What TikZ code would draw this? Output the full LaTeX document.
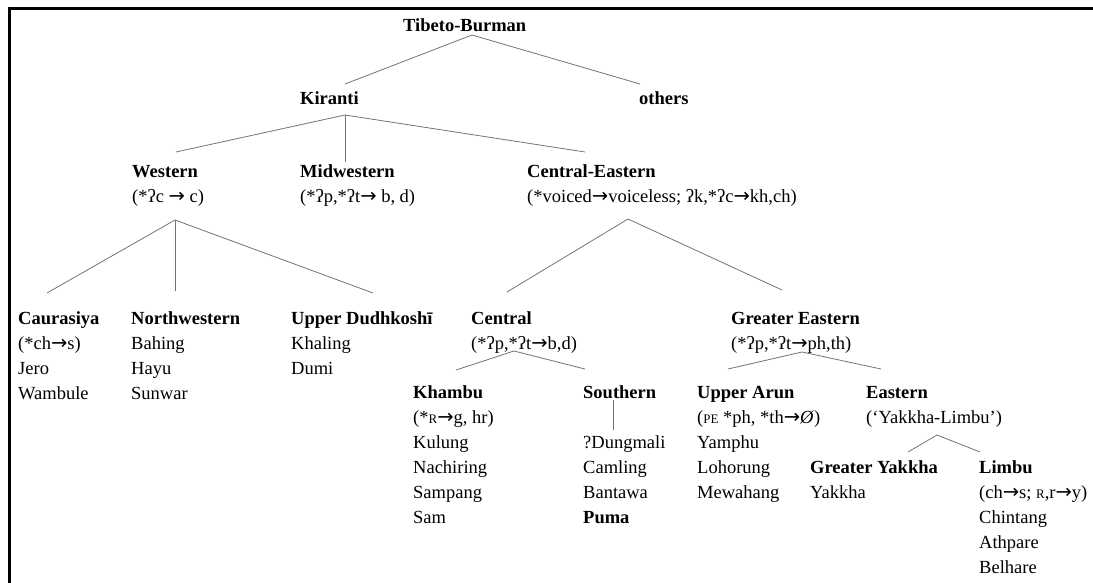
\documentclass[tikz,border=0pt]{standalone}
\usepackage{fontspec}
\setmainfont{Liberation Serif}
\newfontfamily\arfont{DejaVu Sans}
\newcommand\lst[1]{\begin{tabular}[t]{@{}l@{}}#1\end{tabular}}
\newcommand\scr[1]{{\fontsize{13}{13}\selectfont #1}}
\newcommand\ar{{\arfont\fontsize{19.5}{19.5}\selectfont →}}
\begin{document}
\begin{tikzpicture}[x=1pt,y=-1pt,
  lab/.style={anchor=base west,inner sep=0pt,font=\fontsize{18.5}{25}\selectfont},
  br/.style={draw=black!55,line width=0.8pt}]
\useasboundingbox (0,0) rectangle (1093,583);
\draw[line width=3pt] (9,590) -- (9,9) -- (1100,9);
% nodes
\node[lab] (tb)  at (403,32)  {\textbf{Tibeto-Burman}};
\node[lab] (kir) at (300,105) {\textbf{Kiranti}};
\node[lab] (oth) at (639,105) {\textbf{others}};
\node[lab] (wes) at (132,178) {\lst{\textbf{Western}\\(*ʔc \ar{} c)}};
\node[lab] (mid) at (300,178) {\lst{\textbf{Midwestern}\\(*ʔp,*ʔt\ar{} b, d)}};
\node[lab] (ce)  at (527,178) {\lst{\textbf{Central-Eastern}\\(*voiced\ar{}voiceless; ʔk,*ʔc\ar{}kh,ch)}};
\node[lab] (cau) at (18,324)  {\lst{\textbf{Caurasiya}\\(*ch\ar{}s)\\Jero\\Wambule}};
\node[lab] (nw)  at (131,324) {\lst{\textbf{Northwestern}\\Bahing\\Hayu\\Sunwar}};
\node[lab] (ud)  at (291,324) {\lst{\textbf{Upper Dudhkoshī}\\Khaling\\Dumi}};
\node[lab] (cen) at (471,324) {\lst{\textbf{Central}\\(*ʔp,*ʔt\ar{}b,d)}};
\node[lab] (ge)  at (731,324) {\lst{\textbf{Greater Eastern}\\(*ʔp,*ʔt\ar{}ph,th)}};
\node[lab] (kha) at (413,398) {\lst{\textbf{Khambu}\\(*\scr{R}\ar{}g, hr)\\Kulung\\Nachiring\\Sampang\\Sam}};
\node[lab] (sou) at (583,398) {\textbf{Southern}};
\node[lab] (soul) at (583,448) {\lst{?Dungmali\\Camling\\Bantawa\\\textbf{Puma}}};
\node[lab] (ua)  at (697,398) {\lst{\textbf{Upper Arun}\\(\scr{PE} *ph, *th\ar{}\textit{Ø})\\Yamphu\\Lohorung\\Mewahang}};
\node[lab] (eas) at (866,398) {\lst{\textbf{Eastern}\\(‘Yakkha-Limbu’)}};
\node[lab] (gy)  at (810,473) {\lst{\textbf{Greater Yakkha}\\Yakkha}};
\node[lab] (lim) at (979,473) {\lst{\textbf{Limbu}\\(ch\ar{}s; \scr{R},r\ar{}y)\\Chintang\\Athpare\\Belhare}};
% branch coordinates
\coordinate (tbj) at (472,35);
\coordinate (kirt) at (345,84);
\coordinate (otht) at (640,84);
\coordinate (kirj) at (345,115);
\coordinate (west) at (176,152);
\coordinate (midt) at (345,162);
\coordinate (cet) at (585,152);
\coordinate (wesj) at (175,220);
\coordinate (caut) at (47,293);
\coordinate (nwt) at (175,291);
\coordinate (udt) at (373,293);
\coordinate (cej) at (628,219);
\coordinate (cent) at (507,292);
\coordinate (get) at (782,290);
\coordinate (cenj) at (514,351);
\coordinate (khat) at (456,370);
\coordinate (sout) at (585,369);
\coordinate (gej) at (802,352);
\coordinate (uat) at (728,369);
\coordinate (east) at (881,369);
\coordinate (souj) at (613,400);
\coordinate (soult) at (613,430);
\coordinate (easj) at (937,435);
\coordinate (gyt) at (908,452);
\coordinate (limt) at (980,452);
% connectors
\draw[br] (kirt) -- (tbj) -- (otht);
\draw[br] (west) -- (kirj) -- (cet);
\draw[br] (kirj) -- (midt);
\draw[br] (caut) -- (wesj) -- (udt);
\draw[br] (wesj) -- (nwt);
\draw[br] (cent) -- (cej) -- (get);
\draw[br] (khat) -- (cenj) -- (sout);
\draw[br] (uat) -- (gej) -- (east);
\draw[br] (souj) -- (soult);
\draw[br] (gyt) -- (easj) -- (limt);
\end{tikzpicture}
\end{document}
